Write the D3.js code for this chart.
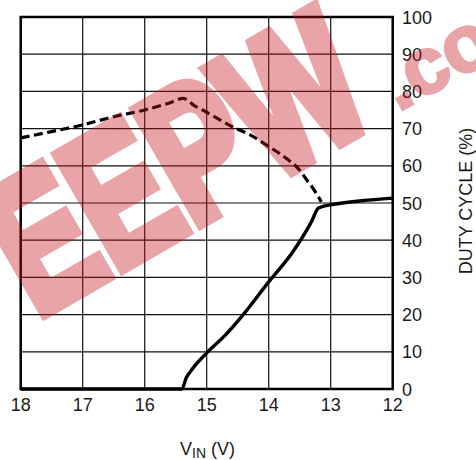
<!DOCTYPE html>
<html>
<head>
<meta charset="utf-8">
<script src="https://cdn.jsdelivr.net/npm/d3@7"></script>
<style>
  body { margin:0; background:#fff; }
  text { font-family: "Liberation Sans", Arial, sans-serif; }
</style>
</head>
<body>
<svg></svg>
<script>
// duty cycle vs input voltage
var xTicks = [18, 17, 16, 15, 14, 13, 12];
var yTicks = [0, 10, 20, 30, 40, 50, 60, 70, 80, 90, 100];

// dashed curve (vin, duty %)
var dashedVin  = [18, 17.5, 17, 16.5, 16, 15.6, 15.38, 15.2, 15, 14.6, 14.3, 14, 13.7, 13.5, 13.4, 13.3, 13.15];
var dashedDuty = [67.5, 69.2, 71, 73.2, 75, 76.9, 78.1, 76.2, 74.4, 70.6, 68.3, 65.2, 61.8, 58.8, 56.5, 54.3, 50.3];

// solid curve
var solidVin  = [18, 15.4, 15.33, 15.25, 15, 14.7, 14.41, 14, 13.61, 13.31, 13.2, 13.1, 13, 12.5, 12];
var solidDuty = [0, 0, 3, 5, 9.7, 14.5, 20, 28.8, 36.9, 45, 48.6, 49.2, 49.5, 50.6, 51.3];

var screen = {width:476, height:460};

var xScale = d3.scaleLinear()
              .domain([18, 12])
              .range([20.7, 392.7]);

var yScale = d3.scaleLinear()
              .domain([0, 100])
              .range([389, 17]);

var svg = d3.select("svg")
            .attr("width", screen.width)
            .attr("height", screen.height);

var grid = svg.append("g").classed("grid", true);

grid.selectAll(".vline")
    .data(xTicks)
    .enter()
    .append("line")
    .attr("x1", function(d){return xScale(d)})
    .attr("x2", function(d){return xScale(d)})
    .attr("y1", yScale(0))
    .attr("y2", yScale(100))
    .attr("stroke", "#111")
    .attr("stroke-width", 1.2);

grid.selectAll(".hline")
    .data(yTicks)
    .enter()
    .append("line")
    .attr("x1", xScale(18))
    .attr("x2", xScale(12))
    .attr("y1", function(d){return yScale(d)})
    .attr("y2", function(d){return yScale(d)})
    .attr("stroke", "#111")
    .attr("stroke-width", 1.2);

// frame
svg.append("rect")
   .attr("x", xScale(18))
   .attr("y", yScale(100))
   .attr("width", xScale(12) - xScale(18))
   .attr("height", yScale(0) - yScale(100))
   .attr("fill", "none")
   .attr("stroke", "#000")
   .attr("stroke-width", 2.5);

var line = d3.line()
             .x(function(d){return xScale(d[0])})
             .y(function(d){return yScale(d[1])})
             .curve(d3.curveMonotoneX);

var dashed = d3.zip(dashedVin, dashedDuty);
var solid = d3.zip(solidVin, solidDuty);

svg.append("path")
   .datum(dashed)
   .attr("d", line)
   .attr("fill", "none")
   .attr("stroke", "#000")
   .attr("stroke-width", 3.2)
   .attr("stroke-dasharray", "9,4.5");

svg.append("path")
   .datum(solid)
   .attr("d", line)
   .attr("fill", "none")
   .attr("stroke", "#000")
   .attr("stroke-width", 3.4)
   .attr("stroke-linejoin", "round");

// tick labels
svg.selectAll(".xlab")
   .data(xTicks)
   .enter()
   .append("text")
   .attr("x", function(d){return xScale(d)})
   .attr("y", 411)
   .attr("text-anchor", "middle")
   .attr("font-size", 18)
   .attr("fill", "#1a1a1a")
   .text(function(d){return d});

svg.selectAll(".ylab")
   .data(yTicks)
   .enter()
   .append("text")
   .attr("x", 402)
   .attr("y", function(d){return yScale(d) + 6.5})
   .attr("font-size", 18)
   .attr("fill", "#1a1a1a")
   .text(function(d){return d});

var xTitle = svg.append("text")
                .attr("x", 180)
                .attr("y", 455)
                .attr("font-size", 18)
                .attr("fill", "#1a1a1a");
xTitle.append("tspan").text("V");
xTitle.append("tspan").attr("font-size", 14).attr("dy", 3).text("IN");
xTitle.append("tspan").attr("dy", -3).text(" (V)");

svg.append("text")
   .attr("transform", "translate(472,201) rotate(-90)")
   .attr("text-anchor", "middle")
   .attr("font-size", 18)
   .attr("fill", "#1a1a1a")
   .text("DUTY CYCLE (%)");

// watermark over the chart
var wm = svg.append("g")
            .attr("opacity", 0.38)
            .attr("fill", "rgb(200,18,28)")
            .attr("stroke", "rgb(200,18,28)")
            .attr("stroke-linejoin", "miter")
            .attr("font-family", "DejaVu Sans")
            .attr("font-weight", "bold");

wm.append("text")
  .attr("transform", "translate(36,318) rotate(-30) scale(1,1.4)")
  .attr("font-size", 135)
  .attr("stroke-width", 9)
  .text("EEPW");

wm.append("text")
  .attr("transform", "translate(398,112) rotate(-29)")
  .attr("font-size", 80)
  .attr("stroke-width", 3)
  .text(".com");
</script>
</body>
</html>
